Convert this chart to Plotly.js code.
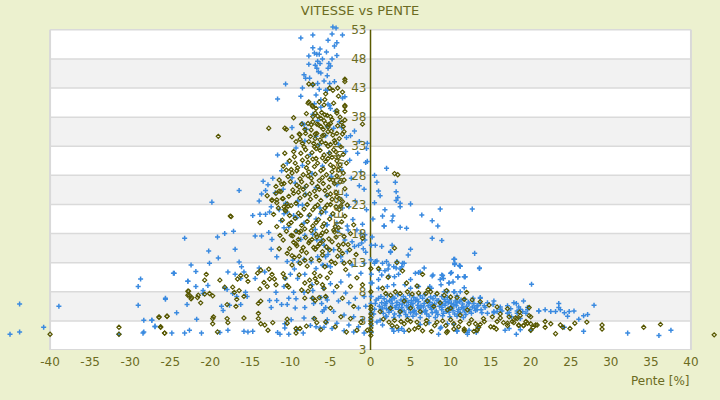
<!DOCTYPE html>
<html><head><meta charset="utf-8">
<script src="https://cdn.plot.ly/plotly-3.0.1.min.js"></script>
<style>html,body{margin:0;padding:0;background:#ecf1cf;}</style>
</head><body>
<div id="chart" style="width:720px;height:400px;"></div>
<script>
// Slope [%] vs speed [km/h], blue series ([x, y] pairs)
const blueTop = [[-4.7,53.5],[-4.3,53.3],[-8.7,51.6],[-7.2,52.1],[-4.8,52.3],[-3.5,52.1],[-5.3,51.2],[-4.2,50.8],[-4.5,50.2],[-7.2,49.9],[-6.3,49.7],[-5.5,49.2],[-4.2,48.6],[-7.7,48.5],[-7.0,49.0],[-6.7,48.8],[-6.4,48.8],[-6.0,48.0],[-4.8,48.0],[-6.6,47.6],[-7.7,47.1],[-5.2,47.2],[-6.3,47.2],[-5.0,46.8],[-6.7,46.4],[-5.3,46.4],[-6.5,45.8],[-6.2,45.6],[-8.3,45.3],[-7.6,44.7],[-8.1,44.7],[-5.4,45.1],[-4.5,44.1],[-6.6,43.8],[-7.2,43.5],[-5.1,43.8],[-10.6,43.7],[-8.5,43.0],[-5.6,42.6],[-5.4,42.6],[-6.4,42.8],[-6.8,41.8],[-8.7,41.6],[-6.2,41.0],[-11.6,41.1],[-3.5,41.3],[-3.2,41.5],[-5.3,40.2],[-5.0,39.5],[-7.2,38.5],[-8.5,36.9],[-8.0,35.9],[-4.6,36.1],[-2.5,34.8],[-6.8,34.7],[-5.6,34.8],[-3.6,36.2],[-6.2,39.7],[-5.1,40.0],[-6.9,46.9],[-5.8,44.2],[-7.0,40.3],[-4.4,39.0]];
const blueMid = [[-11.6,31.5],[-10.4,30.1],[-9.3,32.7],[-8.2,33.9],[-7.5,31.6],[-6.4,33.2],[-5.2,31.9],[-4.0,33.4],[-3.1,32.1],[-2.6,30.6],[-1.6,31.8],[-0.6,30.2],[-0.4,33.5],[-12.2,27.5],[-11.1,28.8],[-9.8,27.6],[-8.5,29.7],[-7.3,28.3],[-6.0,29.6],[-4.9,27.8],[-3.6,28.9],[-2.4,27.5],[-1.2,28.6],[-1.4,26.2],[-0.8,25.6],[-13.6,24.8],[-12.8,26.4],[-10.9,25.6],[-9.4,26.7],[-8.1,24.8],[-6.8,25.9],[-5.5,24.5],[-4.2,26.4],[-3.0,24.6],[-1.9,23.6],[-2.7,22.6],[-0.5,22.1],[-12.4,22.6],[-10.8,21.4],[-9.0,22.9],[-7.7,21.0],[-6.3,22.4],[-4.9,21.1],[-3.5,22.4],[-2.2,20.4],[-1.0,19.6],[-1.7,18.6],[-0.7,17.8],[-10.2,19.1],[-8.3,19.8],[-6.9,18.7],[-5.5,19.5],[-4.1,18.4],[-2.9,19.3],[-3.2,16.9],[-2.0,15.8],[-1.1,16.4],[-0.6,14.8],[-9.8,36.2],[-8.3,36.7],[-6.6,37.4],[-5.4,36.4],[-3.9,37.2],[-2.0,35.6],[-1.4,33.8],[-3.0,34.5]];
const blueLeft = [[-45.0,0.7],[-43.8,5.9],[-43.8,1.1],[-40.8,1.9],[-38.9,5.5],[-29.0,8.9],[-29.0,5.7],[-31.4,0.7],[-28.3,3.1],[-28.4,0.9],[-28.3,1.1],[-27.3,3.1],[-26.9,2.0],[-25.6,6.9],[-24.8,0.9],[-24.2,4.4],[-23.2,0.9],[-22.6,1.4],[-22.8,9.8],[-21.8,8.9],[-22.9,5.8],[-21.7,3.3],[-28.7,10.2],[-24.5,11.2],
[-13.4,27.0],[-16.4,25.4],[-19.8,23.4],[-13.1,25.4],[-13.9,23.6],[-11.9,25.0],[-14.7,21.1],[-13.8,21.3],[-13.1,21.3],[-12.6,21.7],[-11.4,22.1],[-10.6,23.2],[-10.4,21.7],[-11.2,20.2],[-10.8,19.0],[-23.2,17.2],[-19.1,17.4],[-18.2,18.0],[-17.1,18.4],[-14.4,17.6],[-13.6,17.6],[-12.7,18.2],[-12.3,17.0],[-20.2,15.0],[-16.9,15.3],[-12.4,15.3],[-11.7,14.0],[-20.1,12.9],[-19.0,13.8],[-16.4,13.1],[-16.1,12.3],[-22.4,12.6],[-21.8,11.5],[-24.6,11.2],[-17.8,11.4],[-16.9,11.0],[-15.8,11.4],[-13.9,12.1],[-13.2,11.4],[-14.4,10.3],[-22.8,9.8],[-20.3,9.1],[-17.9,8.4],[-17.2,7.7],[-20.9,8.2],[-25.6,6.7],[-18.6,5.5],[-17.6,5.7],[-16.2,5.8],[-18.4,4.8],[-27.3,3.1],[-26.9,2.1],[-21.1,0.9],[-18.8,1.0],[-17.8,1.4],[-15.8,1.2],[-15.3,1.1],[-14.7,1.2],[-16.7,7.2],[-15.4,7.2],[-15.6,7.9],[-16.2,10.3],[-18.2,8.6],[-20.9,7.7],[-12.6,6.5],[-11.7,6.5],[-12.4,5.3],[-11.1,5.8],[-10.4,5.8],[-10.2,6.9],[-9.4,5.2],[-9.3,6.8],[-9.9,3.2],[-10.7,2.5],[-10.7,1.8],[-11.6,1.0],[-11.3,0.7],[-10.2,0.7],[-9.2,1.4],[-8.4,0.9],[-8.3,3.5],[-7.5,2.2],[-7.1,3.4],[-6.8,2.0],[-6.3,1.8],[-9.6,7.9],[-8.3,7.9],[-7.2,8.2],[-7.3,6.9],[-8.2,5.3],[-7.1,6.0],[-6.2,7.0],[-5.5,7.0],[-6.1,6.0],[-5.6,5.3],[-6.0,4.6],[-5.5,2.7],[-5.8,1.9],[-10.8,8.9],[-11.8,7.9],[-7.3,9.2],[-9.1,10.3],[-8.2,11.0],[-10.6,10.3],[-9.5,11.9],[-9.0,13.1],[-8.3,13.6],[-7.4,13.1],[-6.8,12.0],[-6.6,14.0],[-5.9,12.5],[-5.4,12.5],[-5.3,14.4],[-5.3,15.3],[-5.8,16.0],[-6.1,16.9],[-6.7,16.9],[-7.2,17.9],[-8.7,17.0],[-9.7,13.4],[-10.4,13.2],[-10.0,11.0],[-8.2,17.7],[-9.2,18.4],[-9.6,21.1],[-9.2,20.7],[-9.1,23.6],[-8.5,22.9],[-6.8,20.5],[-6.2,21.4],[-5.6,21.7],[-8.2,25.9],
[-5.4,19.5],[-4.2,19.8],[-2.8,18.6],[-1.2,18.0],[-0.7,16.9],[-2.3,16.6],[-1.5,16.0],[-0.9,15.4],[-2.9,14.9],[-3.7,14.0],[-4.6,15.2],[-5.6,14.0],[-6.0,12.6],[-5.0,12.3],[-3.5,13.2],[-2.3,12.6],[-0.8,12.9],[-1.2,11.2],[-2.7,10.9],[-3.7,9.7],[-5.0,9.4],[-5.9,8.6],[-4.6,8.0],[-3.1,7.8],[-1.9,6.9],[-0.8,7.2],[-5.4,6.6],[-4.0,6.4],[-2.7,6.1],[-1.5,5.2],[-0.6,5.5],[-5.8,4.9],[-4.6,4.6],[-3.3,4.0],[-2.1,3.7],[-1.0,3.2],[-5.4,3.2],[-4.2,2.6],[-2.7,2.3],[-1.5,2.0],[-4.8,1.7],[-3.3,1.3],[-2.1,1.1],[-0.8,0.9]];
const blueRight = [[2.0,29.2],[0.8,26.8],[3.1,26.8],[3.2,23.7],[3.7,22.6],[1.8,22.1],[2.7,20.2],[3.7,19.1],[4.5,18.9],[1.5,21.0],[0.5,23.3],[1.0,25.3],[-0.5,32.6],[-0.4,30.4],[5.0,23.1],[6.4,21.2],[7.7,20.2],[8.4,19.3],[7.7,17.2],[8.7,22.2],[8.9,16.8],[12.7,22.2],[13.0,14.6],[13.6,12.0],[10.4,13.6],[11.1,12.5],[11.7,10.6],[5.0,15.3],[4.7,14.3],[3.3,13.2],[4.0,12.9],[2.5,14.8],[1.4,15.8],[0.8,13.3],[0.5,12.9],[0.1,16.0],[0.2,17.4],[1.1,11.7],[2.2,11.9],[3.0,10.6],[3.2,12.1],[4.2,12.9],[6.0,11.3],[7.7,10.7],[9.1,10.3],[8.8,9.2],[10.3,9.7],[11.7,8.7],[20.1,9.3],[3.2,25.2],[3.4,24.2],[3.7,23.2],[2.8,21.0],[1.7,19.3],[0.6,16.0],[2.7,16.0],[0.3,20.5],[1.2,24.5],[0.5,28.0],[1.7,19.3],[2.5,14.9],[1.5,12.9],
[0.6,13.2],[2.0,13.2],[2.3,12.6],[2.9,12.3],[3.9,12.3],[3.7,11.9],[3.5,11.0],[2.3,10.7],[1.4,10.9],[1.8,11.6],[1.0,10.1],[2.9,9.2],[2.1,8.9],[4.3,9.2],[5.0,10.1],[5.6,11.2],[6.2,11.4],[6.7,12.1],[7.8,10.9],[8.7,10.1],[8.9,10.9],[9.8,9.5],[10.1,11.3],[10.5,12.9],[11.2,12.4],[10.9,10.6],[11.8,10.6],[13.6,12.1],[7.6,8.6],[9.2,8.0],[10.4,8.0],[5.0,8.6],[6.0,8.9],[7.4,8.9],[1.0,8.6],[0.2,9.5],
[10.5,13.6],[10.5,12.7],[11.2,12.4],[10.0,11.2],[10.9,10.5],[11.8,10.6],[9.8,9.5],[9.0,10.8],[9.6,8.0],[10.5,8.0],[11.2,8.0],[10.8,7.3],[11.8,6.7],[12.8,6.9],[13.7,6.9],[12.3,6.0],[13.7,6.0],[15.3,5.8],[14.3,5.3],[15.4,4.6],[16.4,4.7],[17.5,5.1],[18.2,6.0],[19.1,6.4],[18.5,5.4],[19.0,4.6],[19.4,4.3],[18.7,3.4],[19.6,4.9],[21.0,4.7],[21.8,4.9],[22.5,4.6],[23.1,4.6],[23.5,6.0],[23.5,5.3],[23.7,4.9],[24.2,4.4],[24.8,4.6],[25.4,4.7],[24.6,3.8],[26.0,3.3],[26.6,3.9],[27.1,4.1],[27.9,5.7],[24.2,1.9],[26.6,1.2],[32.1,0.9],[36.0,0.5],[37.5,1.4],[16.8,1.4],[17.3,1.7],[18.2,0.7],[20.0,1.4],[18.7,1.5],[16.2,5.4],[17.1,4.3],[17.6,3.7],[18.3,4.3],[15.8,4.6],[14.6,4.3],[13.3,4.9],[12.1,1.0],[13.2,1.0],[13.4,1.9],[9.6,2.5],[10.8,1.3],[8.8,1.9],
[13.7,7.0],[14.6,6.1],[15.4,6.4],[16.2,5.0],[17.1,5.6],[17.9,6.1],[18.7,5.0],[19.6,5.3],[21.0,4.7],[18.3,4.7],[17.3,4.4],[15.4,4.4],[13.9,4.4],[13.3,5.6]];
const blueBlob = [[1.3,7.2],[2.1,7.4],[2.8,7.1],[3.4,7.5],[4.1,7.2],[4.9,7.4],[5.4,7.0],[6.2,7.3],[6.8,7.5],[7.5,7.1],[8.1,7.3],[8.9,7.2],[9.6,7.0],
[0.7,6.6],[1.7,6.8],[2.4,6.5],[3.0,6.9],[3.8,6.6],[4.4,6.8],[5.1,6.5],[5.8,6.7],[6.5,6.9],[7.1,6.6],[7.8,6.8],[8.5,6.5],[9.2,6.7],[9.9,6.6],[10.6,6.4],[11.3,6.6],
[1.4,6.1],[2.0,6.3],[2.7,6.0],[3.3,6.2],[4.0,5.9],[4.7,6.2],[5.3,6.0],[6.0,6.3],[6.7,6.0],[7.4,6.2],[8.0,5.9],[8.7,6.1],[9.4,6.3],[10.1,6.0],[10.8,6.1],[11.5,5.9],[12.2,6.2],[12.9,6.0],
[1.1,5.5],[1.8,5.7],[2.5,5.4],[3.2,5.6],[3.9,5.3],[4.5,5.6],[5.2,5.4],[5.9,5.7],[6.6,5.4],[7.2,5.6],[7.9,5.3],[8.6,5.5],[9.3,5.7],[10.0,5.4],[10.7,5.6],[11.4,5.3],[12.0,5.5],[12.7,5.4],[13.4,5.6],
[1.3,4.9],[2.0,5.1],[2.6,4.8],[3.5,5.0],[4.2,4.7],[4.8,5.0],[5.5,4.8],[6.1,5.1],[6.9,4.8],[7.6,5.0],[8.2,4.7],[8.9,4.9],[9.7,5.1],[10.3,4.8],[11.0,5.0],[11.7,4.7],[12.4,4.9],[13.1,4.8],
[1.6,4.3],[2.3,4.5],[3.0,4.2],[3.7,4.4],[4.4,4.1],[5.0,4.4],[5.7,4.2],[6.4,4.5],[7.0,4.2],[7.7,4.4],[8.4,4.1],[9.1,4.3],[9.8,4.5],[10.5,4.2],[11.2,4.4],[11.9,4.1],[12.6,4.3],
[2.0,3.8],[2.9,3.6],[3.6,3.9],[4.6,3.7],[5.3,3.8],[6.2,3.6],[7.3,3.8],[8.1,3.6],[9.0,3.9],[9.9,3.7],[10.8,3.8],[11.6,3.6],
[1.0,6.9],[1.9,6.0],[2.6,6.6],[3.6,5.8],[4.3,6.4],[5.0,5.8],[5.6,6.5],[6.3,5.6],[7.0,6.4],[7.7,5.8],[8.3,6.5],[9.0,5.9],[9.7,6.1],[10.4,5.8],[11.1,6.3],[1.5,5.2],[2.3,4.9],[3.1,5.3],[3.9,4.8],[4.7,5.3],[5.4,4.6],[6.0,5.3],[6.8,4.6],[7.5,5.3],[8.2,4.5],[8.9,5.3],[9.5,4.6],[10.2,5.2],[10.9,4.6],[11.6,5.2],[12.3,4.6],[13.0,5.2],[0.5,5.0],[0.6,6.0],[0.4,4.2],[13.8,4.9],[14.2,5.6],
[0.8,2.8],[1.5,2.3],[2.7,1.7],[2.9,1.2],[3.5,1.4],[3.9,1.7],[4.2,1.2],[8.5,0.7],[8.7,1.7],[10.8,1.2],[12.1,0.7],[12.3,1.4],[10.4,2.4],[6.2,2.4],[7.3,2.7],[1.9,3.7],[1.2,3.1],
[0.1,1.0],[0.1,2.2],[0.05,3.3],[0.1,4.5],[0.05,6.0],[0.1,7.2],[0.05,9.5],[0.1,11.0],[0.05,13.5]];

// olive series
const oliveLeft = [[-40.0,0.7],[-31.4,1.9],[-31.4,0.7],[-26.4,3.6],[-25.4,3.8],[-26.2,1.9],[-25.7,0.9],[-22.7,8.1],[-22.8,7.4],[-22.4,6.8],[-21.6,7.0],[-19.0,34.7],[-17.5,21.0],
[-11.1,26.5],[-11.4,25.3],[-11.8,24.9],[-12.3,23.7],[-11.7,23.3],[-11.0,24.0],[-10.7,22.1],[-10.3,22.7],[-17.4,20.9],[-13.8,19.9],[-11.3,17.7],[-9.9,17.7],[-9.3,18.4],[-8.7,18.4],[-9.6,16.5],[-9.2,15.9],[-8.6,15.0],[-11.4,15.4],[-10.4,14.6],[-9.8,14.2],[-9.5,13.9],[-8.8,12.9],[-8.2,13.4],[-7.6,16.7],[-7.1,15.6],[-6.0,14.9],[-6.8,17.9],[-6.2,17.7],[-20.5,11.0],[-20.7,10.0],[-18.8,10.0],[-22.8,8.1],[-22.6,7.4],[-21.5,7.4],[-20.7,7.6],[-20.1,7.7],[-19.7,7.3],[-18.2,8.8],[-17.2,8.8],[-17.0,7.9],[-16.6,10.2],[-16.2,10.8],[-15.5,10.7],[-15.3,9.8],[-16.7,6.7],[-16.4,8.2],[-14.1,11.2],[-13.7,11.7],[-12.7,11.9],[-12.3,11.0],[-12.0,10.2],[-12.6,10.2],[-13.3,9.6],[-13.8,8.5],[-12.9,8.9],[-11.8,9.2],[-10.9,11.1],[-10.7,10.4],[-10.4,9.1],[-10.2,8.8],[-13.7,6.4],[-14.0,6.0],[-15.8,7.2],[-17.9,5.8],[-16.8,5.5],[-21.2,6.1],[-22.3,7.0],[-26.4,3.7],[-25.4,3.8],[-26.2,2.0],[-25.7,0.9],[-19.7,3.4],[-19.7,2.5],[-19.6,3.7],[-19.1,1.1],[-17.9,3.4],[-17.8,2.7],[-15.8,3.5],[-14.0,4.3],[-14.0,3.4],[-13.7,2.5],[-13.2,2.3],[-12.8,1.4],[-12.2,2.7],[-10.4,3.3],[-10.4,2.6],[-9.3,0.9],[-8.8,1.7],[-8.0,2.1],[-7.0,3.4],[-6.7,2.7],[-6.2,1.5],[-9.3,1.7],[-7.8,8.1],[-8.6,8.3],[-8.2,9.5],[-7.5,8.9],[-6.9,6.5],[-6.4,7.0],[-6.0,9.2],[-5.8,8.6],[-6.7,9.6],[-6.9,10.3],[-7.6,10.0],[-7.2,6.9],[-8.2,6.9],
[-6.0,19.2],[-4.6,18.6],[-2.1,19.5],[-1.0,17.2],[-2.6,15.2],[-4.0,16.0],[-5.7,12.3],[-4.4,12.9],[-3.1,11.8],[-1.7,10.4],[-5.4,10.4],[-4.2,8.9],[-2.5,8.9],[-1.0,9.2],[-5.6,7.2],[-3.5,6.9],[-2.1,5.5],[-5.0,5.2],[-3.7,3.7],[-2.5,3.4],[-5.6,2.8],[-1.2,2.8],[-4.4,2.0],[-3.0,1.1],[-1.7,1.4],[-0.4,1.4]];
const oliveCore = [[-3.2,44.5],[-3.2,44.1],[-7.7,43.7],[-7.2,43.6],[-5.1,43.0],[-4.1,43.0],[-4.7,42.6],[-3.5,42.3],[-7.8,40.4],[-7.3,40.0],[-5.7,41.0],[-5.8,40.1],[-6.8,39.5],[-3.2,39.8],[-4.2,39.1],[-3.2,39.0],[-7.2,38.1],[-6.2,37.8],[-5.0,38.1],[-5.7,38.4],[-12.7,36.1],[-10.7,36.1],[-10.5,35.9],[-7.4,36.7],[-6.7,36.8],[-6.2,36.4],[-5.6,36.9],[-5.2,36.7],[-4.1,36.5],[-3.4,36.4],[-1.0,36.8],[-8.8,35.0],[-6.9,35.1],[-5.8,34.9],[-4.7,34.9],[-3.5,35.1],
[-7.7,40.6],[-7.2,39.8],[-6.9,38.7],[-6.1,38.8],[-5.4,38.3],[-4.2,38.7],[-3.2,40.0],[-3.2,37.5],[-8.6,36.8],[-7.8,36.9],[-7.2,37.2],[-6.5,36.7],[-5.8,37.4],[-5.0,36.9],[-3.6,37.1],[-8.9,35.1],[-8.1,35.2],[-7.5,34.7],[-6.7,35.2],[-6.0,34.8],[-5.3,35.5],[-4.2,35.2],[-3.3,35.5],[-9.3,33.8],[-8.5,33.5],[-7.7,33.8],[-7.1,33.5],[-6.6,33.1],[-5.6,33.5],[-5.0,33.3],[-4.4,33.6],[-3.7,32.9],[-10.7,31.8],[-9.6,32.1],[-8.7,31.8],[-8.1,32.4],[-7.3,31.9],[-6.3,32.3],[-5.8,31.5],[-5.1,31.8],[-4.6,32.4],[-4.0,31.2],[-10.1,30.5],[-9.4,30.1],[-8.5,30.6],[-7.8,30.2],[-7.2,30.8],[-6.6,30.1],[-5.6,30.4],[-5.0,29.8],[-4.2,30.5],[-10.5,28.9],[-9.8,28.4],[-9.2,28.8],[-8.4,28.1],[-7.7,28.6],[-6.9,28.2],[-6.2,28.8],[-5.5,28.1],[-4.8,28.6],[-4.2,27.9],[-3.4,28.4],[-11.4,27.2],[-10.8,26.6],[-10.0,26.9],[-9.2,26.3],[-8.6,26.9],[-8.0,26.2],[-7.3,26.7],[-6.6,26.1],[-5.9,26.6],[-5.2,26.0],[-4.5,26.6],[-11.7,23.8],[-11.2,25.2],[-10.2,24.4],[-9.6,24.9],[-8.8,24.1],[-8.2,24.6],[-7.5,23.9],[-6.8,24.4],[-6.2,23.7],[-5.4,24.6],[-4.8,23.9],[-4.2,24.3],[-3.5,23.5],[-12.3,23.8],[-10.8,22.6],
[-11.5,22.4],[-10.6,21.9],[-9.9,22.8],[-9.0,21.5],[-8.3,22.2],[-7.6,21.2],[-6.9,22.6],[-6.1,21.7],[-5.4,22.9],[-4.7,21.4],[-3.9,22.1],[-3.2,21.0],[-11.0,20.3],[-10.2,19.6],[-9.4,20.6],[-8.6,19.4],[-7.9,20.1],[-7.2,19.3],[-6.5,20.4],[-5.8,19.7],[-5.1,20.5],[-4.4,19.2],[-3.6,20.0],[-10.5,18.4],[-9.7,17.6],[-8.9,18.2],[-8.1,17.3],[-7.4,18.5],[-6.7,17.4],[-6.0,18.1],[-5.2,17.1],[-4.5,18.3],[-3.3,17.5],[-9.3,16.2],[-8.4,15.6],[-7.7,16.4],[-6.9,15.3],[-6.3,16.3],[-5.5,15.7],[-4.8,16.6],[-3.9,15.2],[-2.8,16.1],[-8.9,14.1],[-7.4,13.6],[-6.0,14.3],[-4.9,13.2],[-3.5,14.6],[-2.6,13.1],[-1.8,14.4],
[-8.8,34.2],[-7.4,35.8],[-6.3,34.1],[-5.3,36.3],[-4.5,34.0],[-6.8,32.6],[-5.3,33.0],[-7.9,31.2],[-6.0,31.0],[-4.8,31.1],[-9.1,29.3],[-7.0,29.5],[-5.9,29.1],[-4.6,29.4],[-3.8,29.8],[-8.8,27.4],[-7.4,27.5],[-6.4,27.1],[-5.1,27.3],[-3.8,26.9],[-9.7,25.5],[-8.4,25.6],[-7.0,25.3],[-5.7,25.4],[-4.3,25.1],[-3.2,25.7],[-10.4,23.1],[-9.3,23.2],[-7.9,23.0],[-6.6,22.9],[-5.0,23.0],[-3.7,22.8],
[-9.8,34.6],[-8.2,35.9],[-6.9,34.3],[-5.9,35.9],[-4.9,35.6],[-3.9,34.3],[-9.5,31.2],[-8.3,32.9],[-7.0,32.9],[-6.1,33.7],[-4.3,32.0],[-3.4,31.6],[-10.9,29.6],[-9.9,29.0],[-8.0,29.3],[-6.8,30.9],[-5.3,30.9],[-4.0,28.9],[-3.0,30.1],[-11.8,26.1],[-10.3,27.8],[-8.9,26.0],[-7.8,27.9],[-6.0,27.6],[-4.7,27.2],[-3.3,27.2],[-12.9,24.5],[-10.9,24.0],[-9.0,25.1],[-7.6,24.8],[-6.4,25.6],[-5.0,24.8],[-3.9,24.0],[-12.1,21.3],[-10.1,21.1],[-8.7,21.1],[-7.2,22.1],[-5.7,22.4],[-4.3,22.6],[-2.9,22.9],[-11.7,19.2],[-9.9,19.9],[-8.2,18.8],[-6.8,19.9],[-5.5,18.4],[-4.0,19.0],[-2.5,18.0],[-10.9,16.9],[-9.0,17.0],[-7.3,17.0],[-5.9,16.8],[-4.3,17.4],[-10.1,15.4],[-8.0,14.7],[-6.6,15.8],[-5.1,15.2],[-3.4,16.2],[-9.8,12.6],[-7.9,12.4],[-6.4,13.4],[-4.1,14.1],[-7.0,11.2],[-5.0,11.3],[-3.3,12.9],[-8.9,10.9],[-6.3,10.7],[-9.6,37.9],[-8.0,38.6],[-6.6,38.2],[-4.8,37.6],[-3.8,38.0],[-6.4,40.6],[-4.6,40.4],[-5.6,42.0],[-4.0,41.6]];
const oliveRight = [[3.0,28.3],[3.4,28.1],
[0.05,0.5],[0.05,1.2],[0.05,1.8],[0.05,2.5],[0.05,3.0],[0.05,3.6],[0.05,4.2],[0.05,5.0],[0.05,5.5],[0.05,8.0],[0.05,12.0],
[5.5,1.6],[6.0,1.9],[7.6,1.2],[9.5,1.0],[11.7,1.3],[13.3,1.4],[13.5,1.9],[13.1,2.5],[14.2,2.9],[15.4,1.9],[15.7,1.6],[16.6,2.7],[17.1,2.2],[17.9,2.7],[18.5,2.2],[19.1,2.2],[19.6,2.6],[20.0,2.5],[20.3,1.9],[20.8,2.3],[19.8,3.9],[18.7,3.9],[18.3,3.4],[17.3,3.7],[16.2,4.2],[15.2,3.7],[14.1,3.4],[2.3,2.8],[2.7,2.2],[3.3,2.0],[4.2,2.5],[5.0,2.9],[6.9,2.5],[8.3,2.8],[9.4,2.2],[10.4,2.5],[11.2,2.9],[12.3,2.5],
[1.9,7.7],[2.5,7.4],[3.1,8.0],[3.7,7.7],[4.6,8.0],[5.2,7.6],[6.0,7.8],[6.9,7.7],[7.5,8.0],[8.3,7.7],[9.2,7.4],[10.0,7.1],[10.8,7.0],[11.7,6.7],[12.7,6.6],[13.7,6.3],[14.8,5.7],[15.8,5.4],[17.1,5.1],
[5.0,5.2],[6.2,4.6],[7.9,5.5],[9.6,4.9],[3.7,4.6],[11.2,4.0],[2.5,5.2],[7.1,6.4],[8.7,6.1],[10.0,5.2],[12.1,4.9],[4.2,6.4],[1.2,4.6],
[19.8,5.3],[20.0,3.7],[19.4,2.9],[20.6,2.3],[21.8,2.9],[21.8,1.9],[23.1,0.8],[22.5,2.5],[23.7,2.3],[24.0,1.9],[24.9,1.7],[25.5,2.6],[27.0,2.8],[28.9,2.3],[28.9,1.6],[34.1,1.9],[36.2,2.4],[42.9,0.6],[18.5,2.3],[17.7,2.9],[17.1,2.6],[16.2,3.5],[15.8,2.9],[15.0,2.0],[13.3,1.5],[12.9,1.2],[11.7,1.6],[10.4,1.6],[9.6,1.2],[18.1,3.5],[19.1,2.2],[20.0,1.4],[18.6,4.5],
[3.3,13.0],[2.2,10.5],[4.5,9.5],[1.5,8.6],[5.8,9.0],[3.0,15.5],[7.2,8.4],[9.5,8.2],[12.0,7.9],[4.0,11.6],[1.0,12.0],[6.5,11.0],
[1.6,3.3],[3.0,3.1],[4.6,3.2],[5.8,2.8],[7.0,3.1],[8.0,2.2],[9.0,3.0],[10.0,3.2],[11.0,2.0],[12.6,3.2],[13.7,2.4],[6.5,1.3],[4.8,1.4],[3.8,2.9]];

const xTickVals = [-40,-35,-30,-25,-20,-15,-10,-5,0,5,10,15,20,25,30,35,40];
const xTickText = ["-40","-35","-30","-25","-20","-15","-10","-5","0","5","10","15","20","25","30","35","40"];
const yTickVals = [-2,3,8,13,18,23,28,33,38,43,48,53];
const yTickText = ["3","3","8","13","18","23","28","33","38","43","48","53"];
const bandRanges = [[3,8],[13,18],[23,28],[33,38],[43,48]];
const xMin = -40, xMax = 40, yMin = -2, yMax = 53;

const bluePts = blueTop.concat(blueMid, blueLeft, blueRight, blueBlob);
const olivePts = oliveLeft.concat(oliveCore, oliveRight);

const BLUE = '#3a8ae0', OLIVE = '#575700', TXT = '#6b6b22';

const traces = [
  {type:'scatter', mode:'markers', x:bluePts.map(p=>p[0]), y:bluePts.map(p=>p[1]), cliponaxis:false,
   marker:{symbol:'cross-thin', size:3.6, color:BLUE, line:{color:BLUE, width:1.5}}, hoverinfo:'skip'},
  {type:'scatter', mode:'markers', x:olivePts.map(p=>p[0]), y:olivePts.map(p=>p[1]), cliponaxis:false,
   marker:{symbol:'diamond-open', size:3.2, color:OLIVE, line:{color:OLIVE, width:1.2}}, hoverinfo:'skip'}
];

// plot panel drawn as shapes so that outlying points outside [-40,40] remain visible
const shapes = [{type:'rect', xref:'x', yref:'y', x0:xMin, x1:xMax, y0:yMin, y1:yMax, fillcolor:'#ffffff', line:{width:0}, layer:'below'}];
bandRanges.forEach(r => shapes.push({type:'rect', xref:'x', yref:'y', x0:xMin, x1:xMax, y0:r[0], y1:r[1],
  fillcolor:'#f2f2f2', line:{width:0}, layer:'below'}));
yTickVals.forEach(v => shapes.push({type:'line', xref:'x', yref:'y', x0:xMin, x1:xMax, y0:v, y1:v,
  line:{color:'#dadada', width:1.5}, layer:'below'}));
shapes.push({type:'line', xref:'x', yref:'y', x0:xMin, x1:xMin, y0:yMin, y1:yMax, line:{color:'#d9d9d9', width:2}, layer:'below'});
shapes.push({type:'line', xref:'x', yref:'y', x0:xMax, x1:xMax, y0:yMin, y1:yMax, line:{color:'#d9d9d9', width:2}, layer:'below'});
shapes.push({type:'line', xref:'x', yref:'y', x0:xMin, x1:xMax, y0:yMin, y1:yMin, line:{color:'#d9d9d9', width:2}, layer:'below'});
shapes.push({type:'line', xref:'x', yref:'y', x0:0, x1:0, y0:yMin, y1:yMax, line:{color:'#5a5a00', width:1.5}, layer:'below'});

const layout = {
  width:720, height:400,
  margin:{l:2, r:1, t:24, b:50},
  paper_bgcolor:'#ecf1cf', plot_bgcolor:'#ecf1cf',
  font:{family:'DejaVu Sans, Verdana, sans-serif', size:12, color:TXT},
  showlegend:false, hovermode:false,
  title:{text:'VITESSE vs PENTE', font:{size:13, color:TXT}, x:0.5, xref:'container', xanchor:'center', y:0.975, yref:'container', yanchor:'middle'},
  xaxis:{range:[-46,43.5], tickmode:'array', tickvals:xTickVals, ticktext:xTickText, showgrid:false, zeroline:false,
    showline:false, ticks:'', ticklabelstandoff:3, tickfont:{size:12, color:TXT}, fixedrange:true},
  yaxis:{range:[-2,54], tickmode:'array', tickvals:yTickVals, ticktext:yTickText, anchor:'free', position:46/89.5,
    showline:false, showgrid:false, zeroline:false, ticklabelstandoff:4,
    ticks:'', tickfont:{size:12, color:TXT}, fixedrange:true},
  shapes:shapes,
  annotations:[
    {text:'Pente [%]', xref:'x', yref:'paper', x:40, y:-0.095, xanchor:'right', yanchor:'middle', showarrow:false, font:{size:12, color:TXT}},
    {text:'VITESSE [km/h]', xref:'x', yref:'y', x:-4.0, y:25.2, xanchor:'center', yanchor:'middle', textangle:-90, showarrow:false, font:{size:12, color:TXT}}
  ]
};

Plotly.newPlot('chart', traces, layout, {displayModeBar:false, staticPlot:true});
</script>
</body></html>
